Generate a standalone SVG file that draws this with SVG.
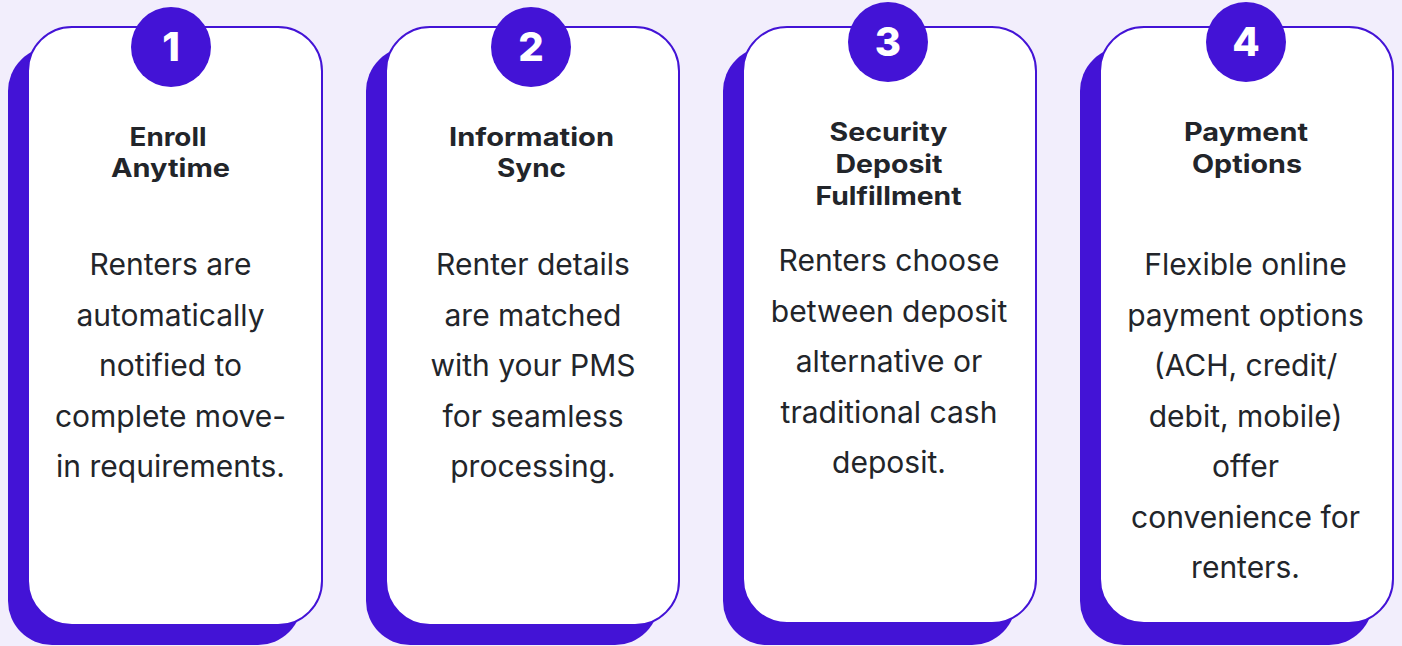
<svg xmlns="http://www.w3.org/2000/svg" width="1402" height="646" viewBox="0 0 1402 646">
<style>
.bg{fill:#F2EEFC}
.sh{fill:#4313D6}
.card{fill:#FFFFFF;stroke:#4313D6;stroke-width:2}
.dot{fill:#4313D6}
.num{font-family:Inter,"Liberation Sans",sans-serif;font-weight:800;font-size:40px;fill:#FFFFFF;text-anchor:middle}
.ttl{font-family:Inter,"Liberation Sans",sans-serif;font-weight:700;font-size:25px;fill:#22252A;text-anchor:middle}
.bd{font-family:Inter,"Liberation Sans",sans-serif;font-weight:400;font-size:30px;fill:#22252A;text-anchor:middle}
</style>
<rect class="bg" x="0" y="0" width="1402" height="646"/>
<g id="step1">
<rect class="sh" x="8" y="47" width="294" height="598" rx="44"/>
<rect class="card" x="28" y="27" width="294" height="598" rx="44"/>
<circle class="dot" cx="171" cy="47" r="40"/>
<text class="num" x="171" y="61">1</text>
<text class="ttl" x="168" y="146" textLength="77" lengthAdjust="spacingAndGlyphs">Enroll</text>
<text class="ttl" x="170.5" y="177" textLength="119" lengthAdjust="spacingAndGlyphs">Anytime</text>
<text class="bd" x="170.5" y="275">Renters are</text>
<text class="bd" x="170.5" y="325.5">automatically</text>
<text class="bd" x="170.5" y="376">notified to</text>
<text class="bd" x="170.5" y="426.5">complete move-</text>
<text class="bd" x="170.5" y="477">in requirements.</text>
</g>
<g id="step2">
<rect class="sh" x="366" y="47" width="293" height="598" rx="44"/>
<rect class="card" x="386" y="27" width="293" height="598" rx="44"/>
<circle class="dot" cx="531" cy="47" r="40"/>
<text class="num" x="531" y="61">2</text>
<text class="ttl" x="531.5" y="146" textLength="165" lengthAdjust="spacingAndGlyphs">Information</text>
<text class="ttl" x="531.5" y="177" textLength="69" lengthAdjust="spacingAndGlyphs">Sync</text>
<text class="bd" x="533" y="275">Renter details</text>
<text class="bd" x="533" y="325.5">are matched</text>
<text class="bd" x="533" y="376">with your PMS</text>
<text class="bd" x="533" y="426.5">for seamless</text>
<text class="bd" x="533" y="477">processing.</text>
</g>
<g id="step3">
<rect class="sh" x="723" y="47" width="293" height="598" rx="44"/>
<rect class="card" x="743" y="27" width="293" height="596" rx="44"/>
<circle class="dot" cx="888" cy="42" r="40"/>
<text class="num" x="888" y="56">3</text>
<text class="ttl" x="888.5" y="141" textLength="118" lengthAdjust="spacingAndGlyphs">Security</text>
<text class="ttl" x="889" y="173" textLength="107" lengthAdjust="spacingAndGlyphs">Deposit</text>
<text class="ttl" x="888.5" y="205" textLength="146" lengthAdjust="spacingAndGlyphs">Fulfillment</text>
<text class="bd" x="889" y="271">Renters choose</text>
<text class="bd" x="889" y="321.5">between deposit</text>
<text class="bd" x="889" y="372">alternative or</text>
<text class="bd" x="889" y="422.5">traditional cash</text>
<text class="bd" x="889" y="473">deposit.</text>
</g>
<g id="step4">
<rect class="sh" x="1080" y="47" width="293" height="598" rx="44"/>
<rect class="card" x="1100" y="27" width="293" height="596" rx="44"/>
<circle class="dot" cx="1246" cy="42" r="40"/>
<text class="num" x="1246" y="56">4</text>
<text class="ttl" x="1246" y="141" textLength="124" lengthAdjust="spacingAndGlyphs">Payment</text>
<text class="ttl" x="1247" y="173" textLength="110" lengthAdjust="spacingAndGlyphs">Options</text>
<text class="bd" x="1245.5" y="275">Flexible online</text>
<text class="bd" x="1245.5" y="325.5">payment options</text>
<text class="bd" x="1245.5" y="376">(ACH, credit/</text>
<text class="bd" x="1245.5" y="426.5">debit, mobile)</text>
<text class="bd" x="1245.5" y="477">offer</text>
<text class="bd" x="1245.5" y="527.5">convenience for</text>
<text class="bd" x="1245.5" y="578">renters.</text>
</g>
<g id="connectors"></g>
</svg>
